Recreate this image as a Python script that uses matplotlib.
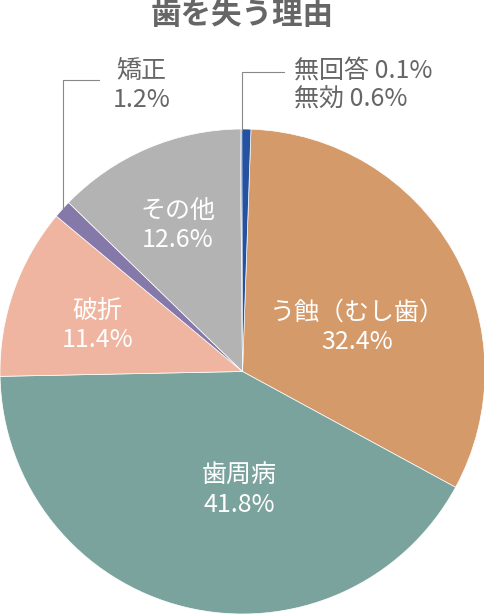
import matplotlib
matplotlib.use("Agg")
import matplotlib.pyplot as plt

plt.rcParams['font.family'] = ['Noto Sans CJK JP', 'DejaVu Sans']

labels = ["う蝕（むし歯）", "歯周病", "破折", "矯正", "その他", "無回答", "無効"]
values = [32.4, 41.8, 11.4, 1.2, 12.6, 0.1, 0.6]
colors = ["#D49A6A", "#7BA39D", "#F0B5A0", "#8479A8", "#B3B3B3", "#1B2F6B", "#2452A0"]

fig = plt.figure(figsize=(4.85, 6.14), dpi=100)
ax = fig.add_axes([0, 0, 1, 1])
ax.pie(values, colors=colors, startangle=88.0, counterclock=False,
       radius=1.0, center=(0, 0), wedgeprops=dict(linewidth=0.5, edgecolor="white"))
ax.set_xlim(-1, 1)
ax.set_ylim(-1, 1.532)
ax.set_aspect('auto')
ax.axis('off')

def P(xp, yp):
    return (xp - 243) / 242.5, (614 - yp) / 242.5 - 1

fs = 18
gray = "#666666"
inside = [("う蝕（むし歯）\n32.4%", 358, 327), ("歯周病\n41.8%", 240, 490),
          ("破折\n11.4%", 98, 325), ("その他\n12.6%", 178, 225)]
for t, xp, yp in inside:
    ax.text(*P(xp, yp), t, ha="center", va="center", color="white",
            fontsize=fs, linespacing=1.15)

ax.text(*P(142, 85), "矯正\n1.2%", ha="center", va="center", color=gray,
        fontsize=fs, linespacing=1.15)
ax.text(*P(295, 85), "無回答 0.1%\n無効 0.6%", ha="left", va="center", color=gray,
        fontsize=fs, linespacing=1.15)

for pts in [[(64, 208), (64, 80), (100, 80)], [(243, 130), (243, 72), (285, 72)]]:
    xs, ys = zip(*[P(*p) for p in pts])
    ax.plot(xs, ys, color="#888888", lw=0.8)

ax.text(*P(243, 15), "歯を失う理由", ha="center", va="center", color=gray,
        fontsize=22, fontweight="bold")

fig.savefig("out.png", dpi=100)
